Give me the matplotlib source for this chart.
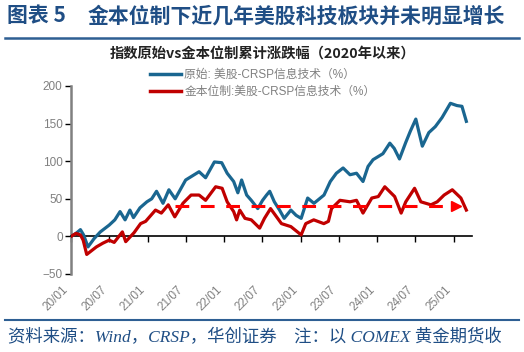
import matplotlib
matplotlib.use("Agg")
import matplotlib.pyplot as plt
import matplotlib.dates as mdates
from matplotlib.lines import Line2D

plt.rcParams['font.family'] = ['Liberation Sans', 'Noto Sans CJK SC']

# 原始: 美股-CRSP信息技术, cumulative % since 2020
blue_dates = [
    "2020-01-01", "2020-01-25", "2020-02-15", "2020-03-01", "2020-03-22", "2020-04-20",
    "2020-05-20", "2020-07-01", "2020-07-28", "2020-08-22", "2020-09-15", "2020-10-08",
    "2020-10-25", "2020-11-25", "2020-12-28", "2021-01-20", "2021-02-12", "2021-03-15",
    "2021-04-12", "2021-05-12", "2021-07-01", "2021-09-03", "2021-10-04", "2021-11-15",
    "2021-12-20", "2022-01-15", "2022-02-15", "2022-03-07", "2022-03-25", "2022-04-18",
    "2022-05-10", "2022-06-10", "2022-07-03", "2022-07-22", "2022-08-06", "2022-08-28",
    "2022-09-22", "2022-10-14", "2022-11-15", "2022-12-10", "2023-01-03", "2023-02-03",
    "2023-03-05", "2023-04-22", "2023-05-22", "2023-06-20", "2023-07-22", "2023-08-24",
    "2023-09-24", "2023-10-25", "2023-11-18", "2023-12-12", "2024-01-28", "2024-03-01",
    "2024-03-22", "2024-04-16", "2024-05-16", "2024-06-07", "2024-07-03", "2024-08-03",
    "2024-09-03", "2024-10-04", "2024-11-05", "2024-12-15", "2025-01-15", "2025-02-08",
    "2025-03-01",
]
blue_vals = [
    0, 4, 9, 2, -14, -3,
    6, 15, 22, 33, 22, 35,
    25, 38, 46, 50, 60, 44,
    62, 50, 75, 86, 78, 99,
    98, 84, 73, 58, 75, 55,
    48, 37, 48, 55, 60, 46,
    35, 24, 35, 28, 24, 51,
    44, 55, 73, 84, 91, 82,
    84, 73, 93, 102, 110, 124,
    117, 103, 125, 140, 156, 120,
    138, 146, 158, 177, 174, 173,
    153,
]

# 金本位制:美股-CRSP信息技术, cumulative % since 2020
red_dates = [
    "2020-01-01", "2020-01-25", "2020-02-15", "2020-02-28", "2020-03-16", "2020-05-01",
    "2020-06-01", "2020-07-01", "2020-07-25", "2020-09-02", "2020-09-18", "2020-10-28",
    "2020-11-28", "2020-12-22", "2021-02-07", "2021-03-07", "2021-04-09", "2021-05-10",
    "2021-06-18", "2021-07-02", "2021-07-27", "2021-09-03", "2021-10-04", "2021-11-21",
    "2021-12-22", "2022-01-15", "2022-02-15", "2022-03-01", "2022-03-16", "2022-04-10",
    "2022-05-10", "2022-06-19", "2022-07-12", "2022-08-10", "2022-10-01", "2022-11-15",
    "2023-01-03", "2023-01-25", "2023-03-04", "2023-04-21", "2023-05-13", "2023-05-28",
    "2023-07-07", "2023-08-24", "2023-09-24", "2023-10-25", "2023-12-06", "2024-01-06",
    "2024-02-06", "2024-03-24", "2024-04-24", "2024-05-16", "2024-06-27", "2024-07-27",
    "2024-09-13", "2024-10-13", "2024-11-15", "2024-12-24", "2025-02-03", "2025-03-01",
]
red_vals = [
    0, 4, 2, -5, -24, -14,
    -9, -5, -8, 6, -7, 5,
    17, 20, 35, 31, 42, 26,
    44, 48, 55, 55, 48, 66,
    64, 46, 33, 22, 35, 24,
    22, 11, 24, 37, 17, 13,
    2, 17, 22, 17, 20, 37,
    48, 46, 48, 31, 51, 53,
    66, 53, 31, 46, 64, 46,
    42, 46, 55, 62, 51, 35,
]

# dashed reference level
base_level = 40
base_start = "2021-05-10"
base_end = "2025-01-15"

tick_dates = ["2020-01-01", "2020-07-01", "2021-01-01", "2021-07-01", "2022-01-01",
              "2022-07-01", "2023-01-01", "2023-07-01", "2024-01-01", "2024-07-01",
              "2025-01-01"]
tick_labels = ["20/01", "20/07", "21/01", "21/07", "22/01", "22/07", "23/01",
               "23/07", "24/01", "24/07", "25/01"]
y_ticks = [-50, 0, 50, 100, 150, 200]

title_num = "图表 5"
title = "金本位制下近几年美股科技板块并未明显增长"
subtitle = "指数原始vs金本位制累计涨跌幅（2020年以来）"
legend_blue = "原始: 美股-CRSP信息技术（%）"
legend_red = "金本位制:美股-CRSP信息技术（%）"
source = "资料来源：Wind，CRSP，华创证券    注：以 COMEX 黄金期货收"

BLUE = "#1A6690"
RED = "#C00000"
DASH = "#FF0000"
GRAY = "#808080"
NAVY = "#1F4E85"

W, H = 524, 352
fig = plt.figure(figsize=(W / 100, H / 100), dpi=100)

# header / footer
fig.text(7 / W, 1 - 16 / H, title_num, fontsize=15, fontweight="bold", color=NAVY,
         family=["Noto Sans CJK SC"], va="center", ha="left")
fig.text(88 / W, 1 - 16 / H, title, fontsize=15, fontweight="bold", color=NAVY,
         family=["Noto Sans CJK SC"], va="center", ha="left")
fig.add_artist(Line2D([5 / W, 519 / W], [1 - 38 / H, 1 - 38 / H], color="#2E5F93", lw=1.8))
fig.text(263 / W, 1 - 54 / H, subtitle, fontsize=10.3, fontweight="bold", color="#222222",
         family=["Noto Sans CJK SC"], va="center", ha="center")
fig.add_artist(Line2D([5 / W, 519 / W], [1 - 320 / H, 1 - 320 / H], color="#2E5F93", lw=1.5))
fig.text(8 / W, 1 - 338 / H, source, fontsize=12.5, style="italic", color=NAVY,
         family=["Liberation Serif", "Noto Sans CJK SC"], va="center", ha="left")

ax = fig.add_axes([71 / W, 1 - 274 / H, (472 - 71) / W, (274 - 86) / H])

bx = mdates.datestr2num(blue_dates)
rx = mdates.datestr2num(red_dates)
ax.plot(bx, blue_vals, color=BLUE, lw=2.3, label=legend_blue, zorder=3)
ax.plot(rx, red_vals, color=RED, lw=2.3, label=legend_red, zorder=4)

x0, x1 = mdates.datestr2num([base_start, base_end])
ax.plot([x0, x1 - 8], [base_level, base_level], color=DASH, lw=2.2,
        dashes=(4.5, 3.8), zorder=5)
ax.plot([x1 - 6], [base_level], marker=">", color=DASH, ms=7, zorder=5)

ax.set_xlim(mdates.datestr2num("2020-01-01"), mdates.datestr2num("2025-03-28"))
ax.set_ylim(-50, 200)

for s in ["top", "right"]:
    ax.spines[s].set_visible(False)
ax.spines["left"].set_color(GRAY)
ax.spines["left"].set_linewidth(1.8)
ax.spines["bottom"].set_position(("data", 0))
ax.spines["bottom"].set_color("black")
ax.spines["bottom"].set_linewidth(1.2)

tx = mdates.datestr2num(tick_dates)
ax.set_xticks(tx)
ax.tick_params(axis="x", direction="out", length=4, width=1, color="black", labelbottom=False)
ax.set_yticks(y_ticks)
ax.tick_params(axis="y", direction="out", length=4, width=1, color="black",
               labelcolor=GRAY, labelsize=8.5, pad=2)

sec = ax.secondary_xaxis(0)
sec.set_xticks(tx, tick_labels)
sec.spines["bottom"].set_visible(False)
sec.tick_params(length=0, pad=7, labelcolor=GRAY, labelsize=8.5)
for lab in sec.get_xticklabels():
    lab.set_rotation(45)
    lab.set_ha("right")

leg = ax.legend(loc="upper left", bbox_to_anchor=(150 / W, 1 - 69 / H),
                bbox_transform=fig.transFigure, frameon=False, fontsize=8.5,
                handlelength=2.6, handletextpad=0.3, labelspacing=0.45,
                borderpad=0, borderaxespad=0)
for t in leg.get_texts():
    t.set_color(GRAY)
for ln in leg.get_lines():
    ln.set_linewidth(2.5)

fig.savefig("out.png", dpi=100)
